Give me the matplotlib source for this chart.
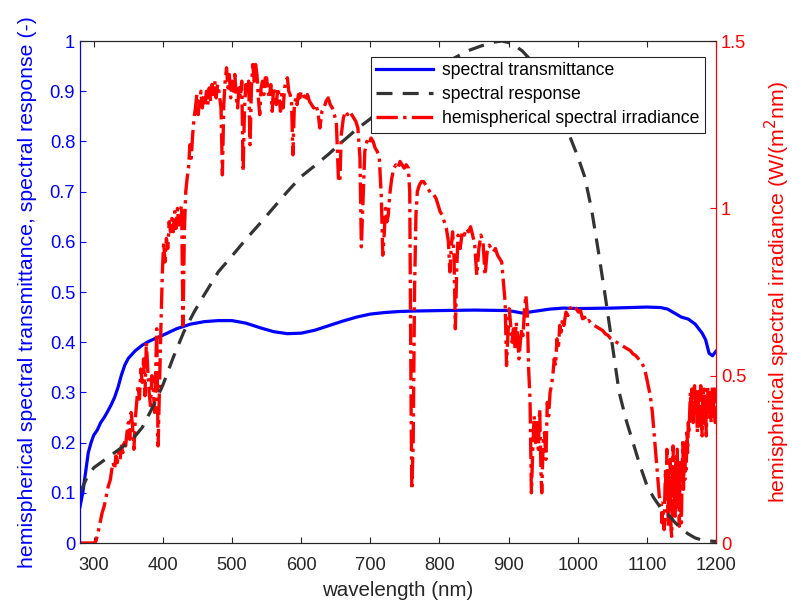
import matplotlib
matplotlib.use("Agg")
import matplotlib.pyplot as plt
from matplotlib.ticker import FormatStrFormatter
import numpy as np

plt.rcParams['font.family'] = ['Liberation Sans', 'DejaVu Sans']

# spectral transmittance (left axis)
wl_trans = [280, 284, 288, 292, 296, 300, 305, 310, 315, 320, 325, 330, 335, 340, 345,
            350, 360, 370, 380, 390, 400, 420, 440, 460, 480, 500, 520, 540, 560, 580,
            600, 620, 640, 660, 680, 700, 720, 740, 760, 800, 850, 900, 920, 940, 960,
            980, 1000, 1050, 1100, 1120, 1130, 1140, 1150, 1160, 1170, 1180, 1185, 1190,
            1195, 1200]
trans = [0.072, 0.10, 0.14, 0.18, 0.20, 0.215, 0.225, 0.24, 0.25, 0.262, 0.275, 0.29,
         0.31, 0.335, 0.355, 0.368, 0.383, 0.394, 0.402, 0.408, 0.414, 0.427, 0.436,
         0.441, 0.443, 0.443, 0.438, 0.429, 0.421, 0.417, 0.418, 0.424, 0.433, 0.442,
         0.450, 0.456, 0.459, 0.461, 0.462, 0.463, 0.464, 0.463, 0.458, 0.462, 0.466,
         0.468, 0.467, 0.468, 0.470, 0.469, 0.466, 0.458, 0.450, 0.446, 0.436, 0.418,
         0.405, 0.378, 0.373, 0.382]

# spectral response (left axis)
wl_resp = [280, 290, 300, 310, 325, 340, 355, 370, 385, 400, 415, 430, 445, 460, 480,
           500, 520, 540, 560, 580, 600, 620, 640, 660, 680, 700, 720, 740, 760, 780,
           800, 820, 840, 860, 880, 890, 900, 910, 920, 940, 960, 980, 1000, 1010, 1020,
           1030, 1040, 1050, 1060, 1070, 1080, 1090, 1100, 1110, 1120, 1130, 1140, 1150,
           1160, 1170, 1180, 1190, 1200]
resp = [0.10, 0.13, 0.15, 0.16, 0.175, 0.19, 0.205, 0.23, 0.27, 0.315, 0.37, 0.42, 0.46,
        0.495, 0.54, 0.572, 0.605, 0.636, 0.668, 0.70, 0.73, 0.752, 0.775, 0.80, 0.824,
        0.845, 0.87, 0.89, 0.91, 0.93, 0.95, 0.965, 0.98, 0.99, 0.998, 1.0, 0.997, 0.99,
        0.98, 0.95, 0.90, 0.84, 0.77, 0.73, 0.665, 0.58, 0.49, 0.395, 0.30, 0.245,
        0.20, 0.155, 0.115, 0.09, 0.07, 0.058, 0.042, 0.028, 0.018, 0.01, 0.006, 0.004,
        0.003]

# hemispherical spectral irradiance (right axis), W/(m^2 nm), 280-1096 nm
wl_irr_a = [280, 285, 290, 295, 300, 303, 306, 309, 312, 315, 318, 321, 324, 326, 328,
            330, 332, 334, 336, 338, 340, 342, 344, 346, 348, 350, 352, 354, 356, 358,
            360, 362, 364, 366, 368, 370, 372, 374, 376, 378, 380, 382, 384, 386, 388,
            390, 391, 393, 395, 397, 399, 401, 403, 405, 407, 409, 411, 413, 415, 417,
            419, 421, 423, 425, 427, 429, 431, 433, 435, 437, 439, 441, 443, 445, 447,
            449, 451, 453, 455, 457, 459, 461, 463, 465, 467, 469, 471, 473, 475, 477,
            479, 481, 484, 486, 488, 490, 492, 494, 496, 498, 500, 502, 504, 506, 508,
            510, 512, 514, 516, 518, 520, 522, 524, 526, 528, 530, 532, 534, 536, 538,
            540, 542, 544, 546, 548, 550, 552, 554, 556, 558, 560, 562, 564, 566, 568,
            570, 572, 574, 576, 578, 580, 582, 584, 586, 588, 590, 592, 594, 596, 598,
            600, 603, 606, 609, 612, 615, 618, 621, 624, 627, 630, 633, 636, 639, 642,
            645, 648, 651, 654, 656, 658, 661, 664, 667, 670, 673, 676, 679, 682, 685,
            687, 689, 692, 695, 698, 701, 704, 707, 710, 713, 716, 718, 720, 722, 724,
            726, 728, 731, 734, 737, 740, 743, 746, 749, 752, 755, 757, 759, 760, 762,
            764, 766, 768, 771, 774, 777, 780, 783, 786, 789, 792, 795, 798, 801, 804,
            807, 810, 813, 815, 817, 819, 821, 823, 825, 827, 830, 833, 836, 839, 842,
            845, 848, 851, 854, 857, 860, 863, 866, 869, 872, 875, 878, 881, 884, 887,
            890, 893, 895, 897, 899, 901, 903, 905, 907, 909, 911, 913, 915, 917, 919,
            921, 923, 925, 927, 929, 931, 933, 935, 937, 939, 941, 943, 945, 947, 948,
            950, 952, 954, 956, 958, 960, 962, 964, 966, 968, 970, 972, 974, 976, 978,
            980, 983, 986, 989, 992, 995, 998, 1001, 1004, 1007, 1010, 1013, 1016, 1020,
            1024, 1028, 1032, 1036, 1040, 1044, 1048, 1052, 1056, 1060, 1064, 1068, 1072,
            1076, 1080, 1084, 1088, 1092, 1096]
irr_a = [0, 0, 0, 0, 0, 0.005, 0.03, 0.06, 0.09, 0.11, 0.14, 0.17, 0.19, 0.22, 0.24,
         0.22, 0.26, 0.24, 0.27, 0.25, 0.29, 0.27, 0.31, 0.29, 0.33, 0.36, 0.31, 0.39, 0.35, 0.28,
         0.37, 0.42, 0.47, 0.43, 0.52, 0.48, 0.55, 0.44, 0.60, 0.52, 0.45, 0.41, 0.50, 0.46, 0.39,
         0.55, 0.64, 0.29, 0.47, 0.64, 0.80, 0.90, 0.84, 0.91, 0.88, 0.96, 0.93, 0.97, 0.93, 0.99,
         0.94, 1.00, 0.95, 0.99, 1.01, 0.65, 0.93, 1.05, 1.09, 1.12, 1.19, 1.15, 1.22, 1.27, 1.30,
         1.34, 1.28, 1.32, 1.35, 1.30, 1.34, 1.31, 1.35, 1.31, 1.36, 1.32, 1.37, 1.34, 1.38, 1.33,
         1.37, 1.35, 1.30, 1.10, 1.31, 1.38, 1.42, 1.36, 1.40, 1.33, 1.38, 1.35, 1.40, 1.33, 1.30,
         1.36, 1.33, 1.38, 1.11, 1.30, 1.37, 1.34, 1.38, 1.19, 1.36, 1.43, 1.38, 1.43, 1.40, 1.33,
         1.28, 1.36, 1.38, 1.34, 1.39, 1.39, 1.35, 1.33, 1.37, 1.29, 1.36, 1.33, 1.31, 1.36, 1.34,
         1.29, 1.34, 1.30, 1.36, 1.38, 1.39, 1.35, 1.34, 1.32, 1.16, 1.30, 1.33, 1.31, 1.34, 1.33,
         1.35, 1.34, 1.32, 1.34, 1.32, 1.31, 1.30, 1.31, 1.29, 1.24, 1.29, 1.30, 1.32, 1.33, 1.31,
         1.30, 1.28, 1.25, 1.08, 1.08, 1.22, 1.27, 1.29, 1.28, 1.29, 1.28, 1.27, 1.26, 1.24, 1.15,
         0.885, 1.00, 1.17, 1.20, 1.19, 1.21, 1.20, 1.18, 1.17, 1.15, 1.03, 0.86, 0.92, 1.00, 0.96,
         0.98, 1.04, 1.09, 1.12, 1.13, 1.12, 1.14, 1.13, 1.12, 1.13, 1.12, 1.05, 0.40, 0.16, 0.30,
         0.76, 0.98, 1.05, 1.07, 1.08, 1.08, 1.07, 1.06, 1.05, 1.04, 1.04, 1.03, 1.01, 0.99, 0.98,
         0.96, 0.94, 0.90, 0.81, 0.88, 0.93, 0.86, 0.64, 0.82, 0.92, 0.88, 0.93, 0.92, 0.94, 0.93,
         0.945, 0.92, 0.89, 0.80, 0.88, 0.92, 0.90, 0.80, 0.87, 0.89, 0.88, 0.87, 0.88, 0.86, 0.85,
         0.84, 0.77, 0.72, 0.53, 0.62, 0.70, 0.65, 0.60, 0.64, 0.58, 0.66, 0.62, 0.55, 0.60, 0.64,
         0.62, 0.70, 0.74, 0.69, 0.52, 0.43, 0.15, 0.28, 0.38, 0.30, 0.36, 0.28, 0.40, 0.20, 0.15,
         0.30, 0.33, 0.25, 0.42, 0.38, 0.45, 0.47, 0.50, 0.55, 0.53, 0.61, 0.58, 0.65, 0.63, 0.67,
         0.65, 0.69, 0.68, 0.70, 0.71, 0.705, 0.70, 0.69, 0.695, 0.67, 0.675, 0.66, 0.665, 0.655,
         0.65, 0.645, 0.64, 0.635, 0.625, 0.62, 0.61, 0.605, 0.60, 0.595, 0.59, 0.585, 0.58,
         0.575, 0.565, 0.56, 0.55, 0.54, 0.525]

# irradiance, 1099-1200 nm (water band, noisy)
wl_irr_b = [1099, 1102, 1105, 1108, 1110, 1112, 1114, 1116, 1118] + list(range(1120, 1201))
irr_b = [0.50, 0.47, 0.44, 0.39, 0.34, 0.29, 0.24, 0.19, 0.14,
         0.12, 0.12, 0.06, 0.10, 0.08, 0.04, 0.14, 0.22, 0.12, 0.28,
         0.15, 0.05, 0.20, 0.10, 0.25, 0.04, 0.02, 0.18, 0.29, 0.12,
         0.22, 0.08, 0.26, 0.15, 0.28, 0.10, 0.21, 0.05, 0.24, 0.14,
         0.06, 0.20, 0.30, 0.16, 0.25, 0.19, 0.31, 0.22, 0.34, 0.27,
         0.36, 0.33, 0.39, 0.45, 0.38, 0.46, 0.40, 0.36, 0.44, 0.47,
         0.39, 0.45, 0.42, 0.33, 0.46, 0.40, 0.35, 0.44, 0.47, 0.38,
         0.32, 0.45, 0.40, 0.46, 0.35, 0.42, 0.32, 0.44, 0.47, 0.37,
         0.45, 0.40, 0.46, 0.36, 0.43, 0.47, 0.38, 0.44, 0.46, 0.36,
         0.44]

wl_irr = wl_irr_a + wl_irr_b
irr = irr_a + irr_b

x_ticks = [300, 400, 500, 600, 700, 800, 900, 1000, 1100, 1200]
left_ticks = [0, 0.1, 0.2, 0.3, 0.4, 0.5, 0.6, 0.7, 0.8, 0.9, 1]
right_ticks = [0, 0.5, 1, 1.5]

dark = '#262626'
fig = plt.figure(figsize=(7.92, 6.03), dpi=100)
ax = fig.add_axes([0.101, 0.0995, 0.803, 0.8325])
ax2 = ax.twinx()

l1, = ax.plot(wl_trans, trans, color='b', lw=2.3, label='spectral transmittance')
l3, = ax2.plot(wl_irr, irr, color='r', lw=2.4, ls='-.', label='hemispherical spectral irradiance')
# response belongs to the left scale but is drawn above the irradiance
l2, = ax2.plot(wl_resp, resp, color='#333333', lw=2.3, ls=(0, (5, 3.2)),
               transform=ax.transData, label='spectral response')

ax.set_xlim(280, 1200)
ax.set_ylim(0, 1)
ax2.set_ylim(0, 1.5)
ax.set_xticks(x_ticks)
ax.set_yticks(left_ticks)
ax2.set_yticks(right_ticks)
ax.yaxis.set_major_formatter(FormatStrFormatter('%g'))
ax2.yaxis.set_major_formatter(FormatStrFormatter('%g'))

fs = 13.2
ax.tick_params(axis='x', direction='in', length=4, top=True, colors=dark, labelsize=fs, pad=10)
ax.tick_params(axis='y', direction='in', length=4, colors='b', labelsize=fs)
ax2.tick_params(axis='y', direction='in', length=4, colors='r', labelsize=fs)

for a in (ax, ax2):
    a.spines['top'].set_color(dark)
    a.spines['bottom'].set_color(dark)
    a.spines['left'].set_color('b')
    a.spines['right'].set_color('r')

ax.set_xlabel('wavelength (nm)', fontsize=14.8, color=dark, labelpad=5)
ax.set_ylabel('hemispherical spectral transmittance, spectral response (-)',
              fontsize=15.3, color='b', labelpad=9)
ax2.set_ylabel('hemispherical spectral irradiance (W/(m$^2$nm)', fontsize=15.3,
               color='r', labelpad=12)

leg = ax2.legend(handles=[l1, l2, l3], loc='upper right', bbox_to_anchor=(0.983, 0.968),
                 borderaxespad=0, fontsize=12.7, handlelength=3.2, fancybox=False,
                 framealpha=1, edgecolor=dark, borderpad=0.3, labelspacing=0.4,
                 handletextpad=0.55)
leg.get_frame().set_linewidth(0.8)

fig.savefig('out.png', dpi=100)
